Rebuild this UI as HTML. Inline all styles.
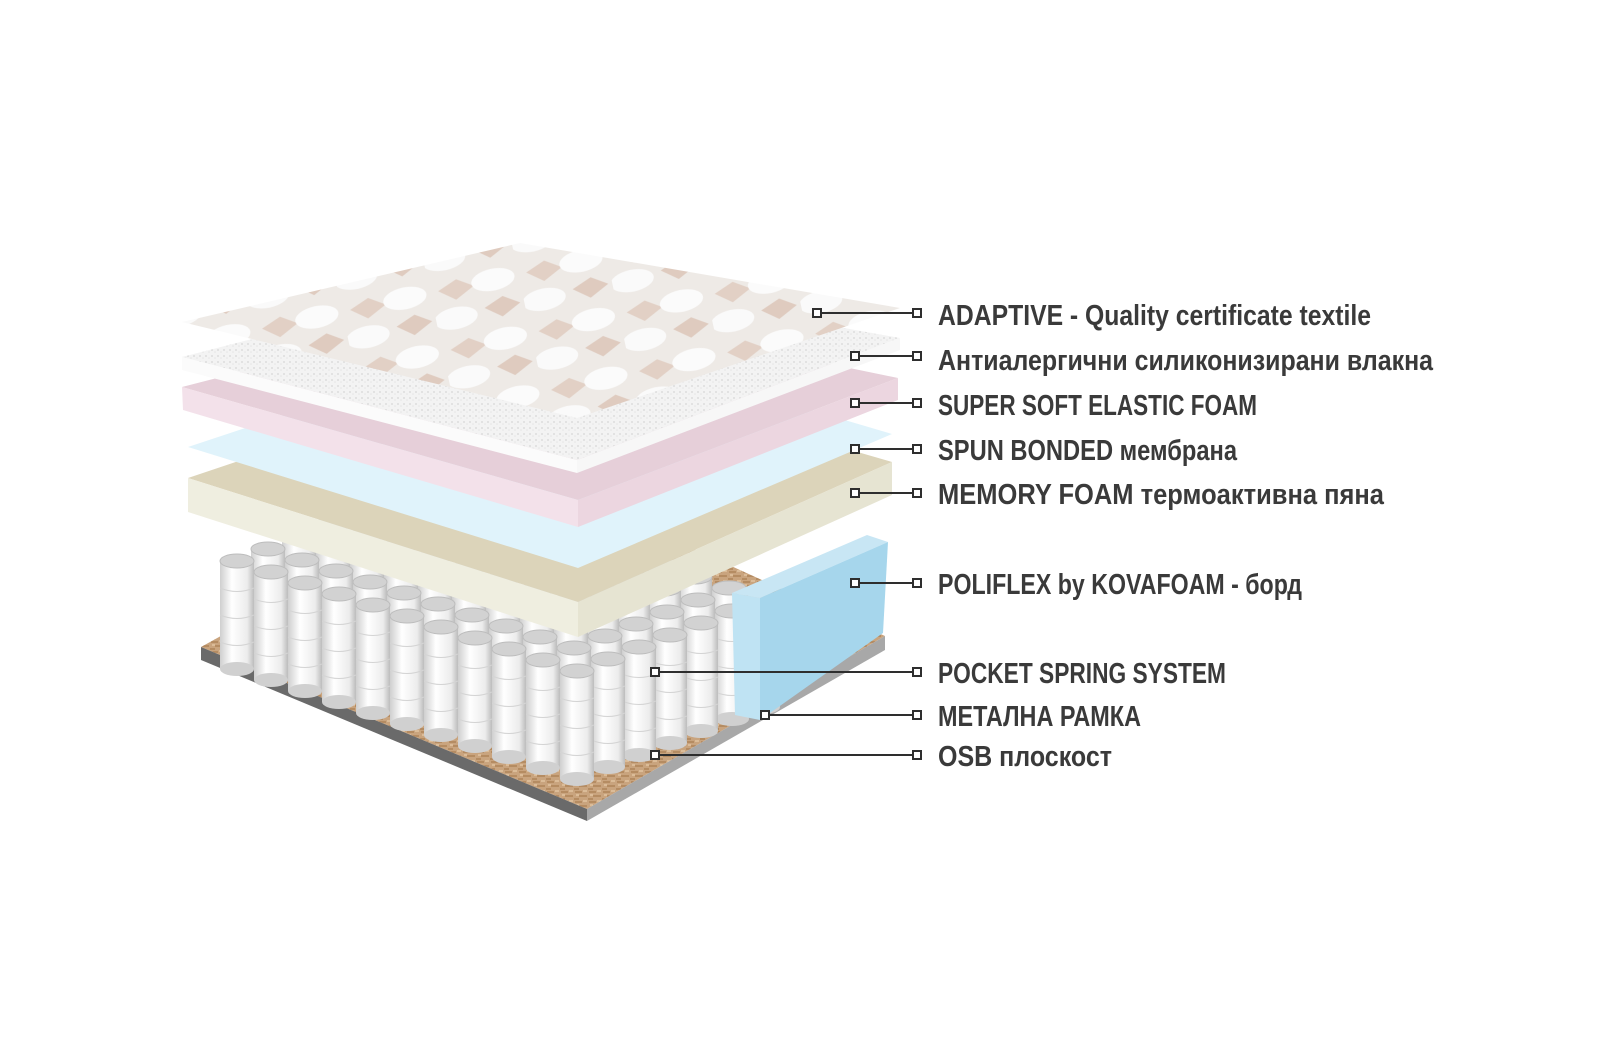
<!DOCTYPE html>
<html><head><meta charset="utf-8"><style>
html,body{margin:0;padding:0;background:#fff;}
svg{display:block}
text{font-family:"Liberation Sans Narrow","Liberation Sans",sans-serif;font-weight:bold;fill:#3a3a3a;font-size:29px}
</style></head><body>
<svg id="s" width="1600" height="1060" viewBox="0 0 1600 1060" xmlns="http://www.w3.org/2000/svg">
<defs>
<linearGradient id="cyl" x1="0" x2="1" y1="0" y2="0">
<stop offset="0" stop-color="#cfcfcf"/><stop offset="0.35" stop-color="#ffffff"/><stop offset="0.8" stop-color="#ececec"/><stop offset="1" stop-color="#bcbcbc"/></linearGradient>
<pattern id="osb" width="14" height="10" patternUnits="userSpaceOnUse">
<rect width="14" height="10" fill="#c9a47e"/><path d="M1 2h7M5 6h8M0 9h5" stroke="#a97d52" stroke-width="1.2"/><path d="M9 1h4M2 5h3" stroke="#e6cba8" stroke-width="1.2"/></pattern>
<pattern id="tex" width="90" height="60" patternUnits="userSpaceOnUse" patternTransform="rotate(-12)">
<rect width="90" height="60" fill="#eeeae6"/>
<path d="M8 16 L28 8 L44 18 L24 28Z" fill="#e2d0c5"/><path d="M50 42 L70 34 L86 44 L66 54Z" fill="#dfcbbf"/>
<ellipse cx="64" cy="16" rx="22" ry="11" fill="#fbfbfb"/><ellipse cx="20" cy="46" rx="22" ry="11" fill="#fafafa"/></pattern>
<pattern id="fib" width="6" height="6" patternUnits="userSpaceOnUse"><rect width="6" height="6" fill="#f3f3f3"/><circle cx="2" cy="2" r="1" fill="#dddddd"/><circle cx="5" cy="4" r="0.8" fill="#e6e6e6"/></pattern>
</defs>
<!-- board -->
<polygon points="201,647 520,470 885,636 587,809" fill="url(#osb)"/>
<polygon points="201,647 587,809 587,821 201,660" fill="#6a6a6a"/>
<polygon points="587,809 885,636 885,650 587,821" fill="#a8a8a8"/>
<g id="springs"></g>
<!-- blue border -->
<polygon points="732,593 867,535 888,542 760,598" fill="#c8e6f4"/>
<polygon points="732,593 760,598 760,720 735,715" fill="#bfe3f3"/>
<polygon points="760,598 888,542 883,633 760,720" fill="#a6d6ec"/>
<!-- memory foam -->
<polygon points="188,478 540,360 892,462 578,602" fill="#dcd4ba"/>
<polygon points="188,478 578,602 578,637 188,512" fill="#efeee0"/>
<polygon points="578,602 892,462 892,495 578,637" fill="#e6e4d2"/>
<!-- blue membrane -->
<polygon points="188,447 540,330 892,434 578,568" fill="#e0f3fb"/>
<!-- pink -->
<polygon points="182,387 520,300 898,378 578,500" fill="#e6cfd9"/>
<polygon points="182,387 578,500 578,527 183,410" fill="#f3e1ea"/>
<polygon points="578,500 898,378 898,400 578,527" fill="#ecd6e0"/>
<!-- fiber -->
<polygon points="182,357 520,270 900,338 577,460" fill="url(#fib)"/>
<polygon points="182,357 577,460 577,473 182,370" fill="#fbfbfb"/>
<polygon points="577,460 900,338 900,350 577,473" fill="#f7f7f7"/>
<!-- textile -->
<polygon points="182,322 520,243 900,308 577,418" fill="url(#tex)"/>
<!-- connectors -->
<g stroke="#2e2e2e" stroke-width="2" fill="#fff" id="con"></g>
<text x="938" y="325" textLength="433" lengthAdjust="spacingAndGlyphs">ADAPTIVE - Quality certificate textile</text>
<text x="938" y="370" textLength="495" lengthAdjust="spacingAndGlyphs">Антиалергични силиконизирани влакна</text>
<text x="938" y="415" textLength="319" lengthAdjust="spacingAndGlyphs">SUPER SOFT ELASTIC FOAM</text>
<text x="938" y="460" textLength="299" lengthAdjust="spacingAndGlyphs">SPUN BONDED мембрана</text>
<text x="938" y="504" textLength="446" lengthAdjust="spacingAndGlyphs">MEMORY FOAM термоактивна пяна</text>
<text x="938" y="594" textLength="364" lengthAdjust="spacingAndGlyphs">POLIFLEX by KOVAFOAM - борд</text>
<text x="938" y="683" textLength="288" lengthAdjust="spacingAndGlyphs">POCKET SPRING SYSTEM</text>
<text x="938" y="726" textLength="203" lengthAdjust="spacingAndGlyphs">МЕТАЛНА РАМКА</text>
<text x="938" y="766" textLength="174" lengthAdjust="spacingAndGlyphs">OSB плоскост</text>
</svg>
<script>
var NS="http://www.w3.org/2000/svg";
var sp=document.getElementById("springs");
function el(t,a,p){var e=document.createElementNS(NS,t);for(var k in a)e.setAttribute(k,a[k]);p.appendChild(e);return e;}
for(var r=6;r>=0;r--){for(var i=0;i<11;i++){
 var cx=237+i*34+r*31, cy=561+i*11-r*12, rx=17, ry=7, h=108;
 var g=el("g",{},sp);
 el("rect",{x:cx-rx,y:cy,width:rx*2,height:h,fill:"url(#cyl)"},g);
 el("ellipse",{cx:cx,cy:cy+h,rx:rx,ry:ry,fill:"#d0d0d0"},g);
 for(var k=1;k<4;k++)el("path",{d:"M"+(cx-rx)+" "+(cy+k*27)+" q"+rx+" "+ry+" "+(2*rx)+" 0",stroke:"#d4d4d4",fill:"none"},g);
 el("ellipse",{cx:cx,cy:cy,rx:rx,ry:ry,fill:"#d2d2d2",stroke:"#bdbdbd"},g);
}}
var c=document.getElementById("con");
var L=[[817,313],[855,356],[855,403],[855,449],[855,493],[855,583],[655,672],[765,715],[655,755]];
L.forEach(function(p){
 el("line",{x1:p[0],y1:p[1],x2:917,y2:p[1]},c);
 el("rect",{x:p[0]-4,y:p[1]-4,width:8,height:8},c);
 el("rect",{x:913,y:p[1]-4,width:8,height:8},c);
});
</script>
</body></html>
